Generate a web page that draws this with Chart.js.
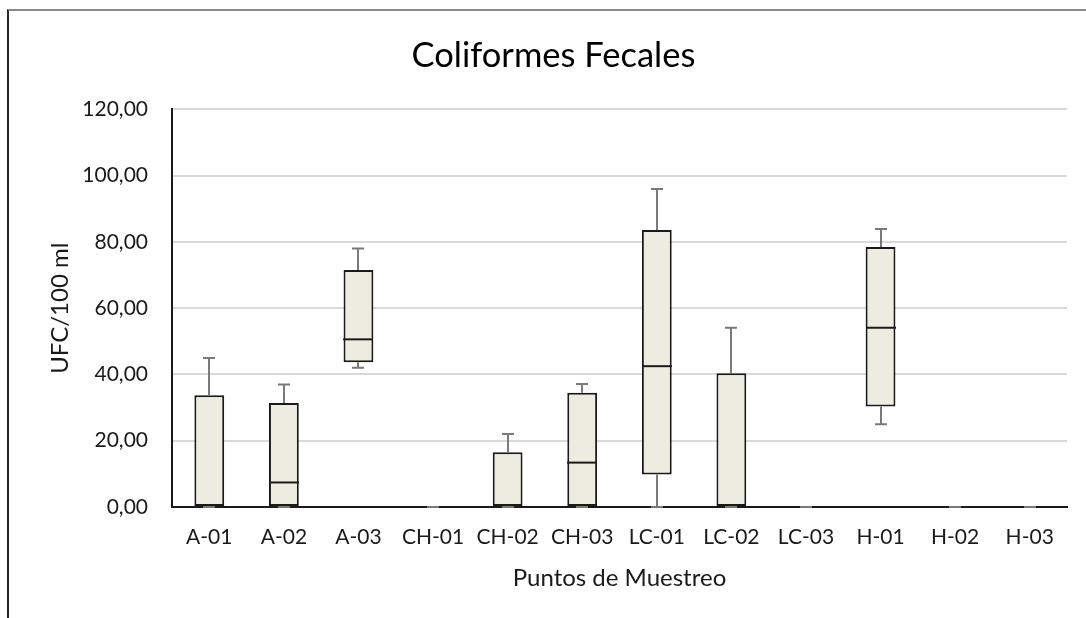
<!DOCTYPE html>
<html>
<head>
<meta charset="utf-8">
<title>Coliformes Fecales</title>
<script src="https://cdn.jsdelivr.net/npm/chart.js@4/dist/chart.umd.min.js"></script>
<style>
  html, body { margin: 0; padding: 0; background: #ffffff; overflow: hidden; }
  #frame {
    position: absolute; left: 7px; top: 9px; width: 1200px; height: 700px;
    border-top: 2px solid #8a8a8a; border-left: 2px solid #262626;
  }
  #wrap { position: absolute; left: 0; top: 0; width: 1086px; height: 618px; }
</style>
</head>
<body>
<div id="frame"></div>
<div id="wrap"><canvas id="chart" width="1086" height="618"></canvas></div>
<script>
// Sampling points and box-plot statistics (UFC/100 ml)
const categories = ['A-01', 'A-02', 'A-03', 'CH-01', 'CH-02', 'CH-03', 'LC-01', 'LC-02', 'LC-03', 'H-01', 'H-02', 'H-03'];
const minimum = [0, 0, 42.0, 0, 0, 0, 0, 0, 0, 25.0, 0, 0];
const quartile1 = [0, 0, 43.7, 0, 0, 0, 9.8, 0, 0, 30.3, 0, 0];
const median = [0, 7.4, 50.6, 0, 0, 13.4, 42.5, 0, 0, 54.1, 0, 0];
const quartile3 = [33.7, 31.4, 71.5, 0, 16.5, 34.5, 83.6, 40.4, 0, 78.5, 0, 0];
const maximum = [45.0, 37.0, 78.0, 0, 22.0, 37.1, 96.0, 54.1, 0, 83.9, 0, 0];
const yTicks = [0, 20, 40, 60, 80, 100, 120];

const FONT = 'Lato, "Open Sans", sans-serif';
const TEXT = '#1a1a1a';
const BOX_FILL = '#eeece1';
const BOX_EDGE = '#1a1a1a';
const WHISKER = '#7a7a7a';

// Whiskers (box edge to min/max, with a short cap) and the median line
const boxDetailsPlugin = {
  id: 'boxDetails',
  afterDatasetsDraw(chart) {
    const { ctx, scales: { x, y } } = chart;
    const boxes = chart.getDatasetMeta(0).data;
    ctx.save();
    ctx.lineWidth = 2;
    const cap = 6;
    categories.forEach((_, i) => {
      const cx = Math.round(x.getPixelForValue(i));
      ctx.strokeStyle = WHISKER;
      [[quartile3[i], maximum[i]], [quartile1[i], minimum[i]]].forEach(([from, to]) => {
        const y0 = y.getPixelForValue(from);
        const y1 = y.getPixelForValue(to);
        ctx.beginPath();
        if (to !== from) {
          ctx.moveTo(cx, y0);
          ctx.lineTo(cx, y1);
        }
        ctx.moveTo(cx - cap, y1);
        ctx.lineTo(cx + cap, y1);
        ctx.stroke();
      });
      if (median[i] > quartile1[i] && median[i] < quartile3[i]) {
        const half = boxes[i].width / 2;
        const ym = y.getPixelForValue(median[i]);
        ctx.strokeStyle = BOX_EDGE;
        ctx.beginPath();
        ctx.moveTo(cx - half, ym);
        ctx.lineTo(cx + half, ym);
        ctx.stroke();
      }
    });
    ctx.restore();
  }
};

new Chart(document.getElementById('chart'), {
  type: 'bar',
  data: {
    labels: categories,
    datasets: [{
      label: 'Q1-Q3',
      data: categories.map((_, i) => [quartile1[i], quartile3[i]]),
      backgroundColor: BOX_FILL,
      borderColor: BOX_EDGE,
      borderWidth: 2,
      borderSkipped: false,
      categoryPercentage: 1,
      barPercentage: 0.4
    }]
  },
  options: {
    responsive: false,
    animation: false,
    layout: { padding: { left: 40, right: 19, top: 0, bottom: 0 } },
    plugins: {
      legend: { display: false },
      tooltip: { enabled: false },
      title: {
        display: true,
        text: 'Coliformes Fecales',
        color: '#000000',
        font: { family: FONT, size: 34.5, weight: 'normal' },
        padding: { top: 35, bottom: 33 }
      }
    },
    scales: {
      x: {
        grid: { display: false, drawTicks: false },
        border: { display: true, color: '#1a1a1a', width: 2 },
        ticks: { color: TEXT, font: { family: FONT, size: 21 }, padding: 18, maxRotation: 0, autoSkip: false },
        title: {
          display: true,
          text: 'Puntos de Muestreo',
          color: TEXT,
          font: { family: FONT, size: 24 },
          padding: { top: 4, bottom: 25.6 }
        },
        afterFit(scale) { scale.height = 111; }
      },
      y: {
        min: 0,
        max: 120,
        afterBuildTicks(scale) { scale.ticks = yTicks.map(v => ({ value: v })); },
        grid: { color: '#d9d9d9', lineWidth: 2, drawTicks: false },
        border: { display: true, color: '#1a1a1a', width: 2 },
        ticks: {
          color: TEXT,
          font: { family: FONT, size: 21 },
          padding: 24,
          callback: v => v.toFixed(2).replace('.', ',')
        },
        title: {
          display: true,
          text: 'UFC/100 ml',
          color: TEXT,
          font: { family: FONT, size: 24 },
          padding: { top: 5.6, bottom: 0 }
        },
        afterFit(scale) { scale.width = 132; }
      }
    }
  },
  plugins: [boxDetailsPlugin]
});
</script>
</body>
</html>
